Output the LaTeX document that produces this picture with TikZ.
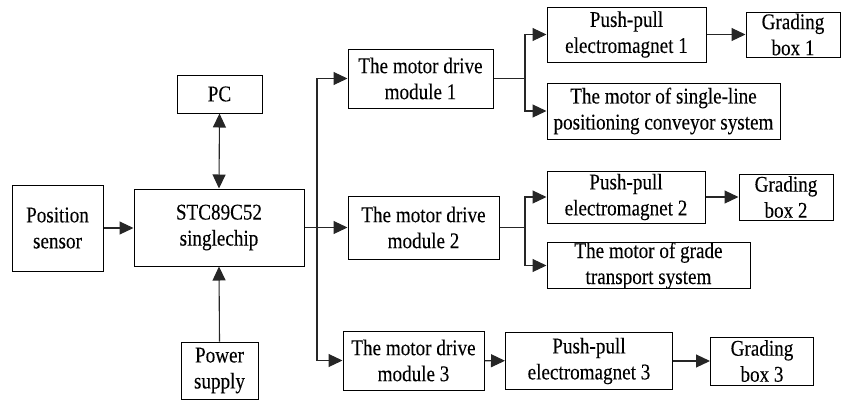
\documentclass[tikz,border=0pt]{standalone}
\usepackage{fontspec}
\setmainfont{Liberation Serif}[FakeStretch=0.85,FakeBold=0.15]
\usetikzlibrary{arrows.meta}
\begin{document}
\begin{tikzpicture}[x=1pt,y=-1pt,
  blk/.style={draw, line width=1pt, inner sep=0pt, align=center,
              font=\fontsize{22.5}{26}\selectfont},
  tip/.tip={Triangle[length=14pt,width=13pt]},
  wire/.style={line width=1.1pt, black!85},
  link/.style={wire, -tip}]
\useasboundingbox (0,0) rectangle (841,400);

% controller and its peripherals
\node[blk, minimum width=91pt,  minimum height=86pt] (pos) at (57.5,228)  {Position\\sensor};
\node[blk, minimum width=170pt, minimum height=77pt] (mcu) at (219,227.5) {STC89C52\\singlechip};
\node[blk, minimum width=85pt,  minimum height=38pt] (pc)  at (219.5,94)  {PC};
\node[blk, minimum width=77pt,  minimum height=57pt] (pwr) at (219.5,370.5) {Power\\supply};

% motor drive modules
\node[blk, minimum width=145pt, minimum height=59pt] (md1) at (420.5,78.5) {The motor drive\\module 1};
\node[blk, minimum width=151pt, minimum height=63pt] (md2) at (423.5,227.5) {The motor drive\\module 2};
\node[blk, minimum width=141pt, minimum height=59pt] (md3) at (413.5,360.5) {The motor drive\\module 3};

% branch 1
\node[blk, minimum width=159pt, minimum height=55pt] (pp1) at (626.5,34.5) {Push-pull\\electromagnet 1};
\node[blk, minimum width=94pt,  minimum height=45pt] (gb1) at (793,34.5)   {Grading\\box 1};
\node[blk, minimum width=233pt, minimum height=56pt] (ms1) at (663.5,111)  {The motor of single-line\\positioning conveyor system};

% branch 2
\node[blk, minimum width=158pt, minimum height=52pt] (pp2) at (626,197)    {Push-pull\\electromagnet 2};
\node[blk, minimum width=94pt,  minimum height=46pt] (gb2) at (786,197)    {Grading\\box 2};
\node[blk, minimum width=203pt, minimum height=45pt] (mg)  at (648.5,265.5) {The motor of grade\\transport system};

% branch 3
\node[blk, minimum width=167pt, minimum height=57pt] (pp3) at (589,361)    {Push-pull\\electromagnet 3};
\node[blk, minimum width=103pt, minimum height=48pt] (gb3) at (762,361)    {Grading\\box 3};

% connections around the controller
\draw[link] (pos.east) -- (mcu.west |- pos.east);
\draw[wire, tip-tip] (pc.south) -- (mcu.north);
\draw[link] (pwr.north) -- (mcu.south);

% distribution bus to the drive modules
\coordinate (bus) at (317,227.5);
\draw[link] (mcu.east) -- (md2.west);
\draw[link] (bus) |- (md1.west);
\draw[link] (bus) |- (md3.west);

% fan-out of the drive modules
\coordinate (j1) at (525,78.5);
\coordinate (j2) at (525,227.5);
\draw[wire] (md1.east) -- (j1);
\draw[link] (j1) |- (pp1.west);
\draw[link] (j1) |- (ms1.west);
\draw[wire] (md2.east) -- (j2);
\draw[link] (j2) |- (pp2.west);
\draw[link] (j2) |- (mg.west);

% electromagnets to grading boxes
\draw[link] (pp1) -- (gb1);
\draw[link] (pp2) -- (gb2);
\draw[link] (md3) -- (pp3);
\draw[link] (pp3) -- (gb3);
\end{tikzpicture}
\end{document}
